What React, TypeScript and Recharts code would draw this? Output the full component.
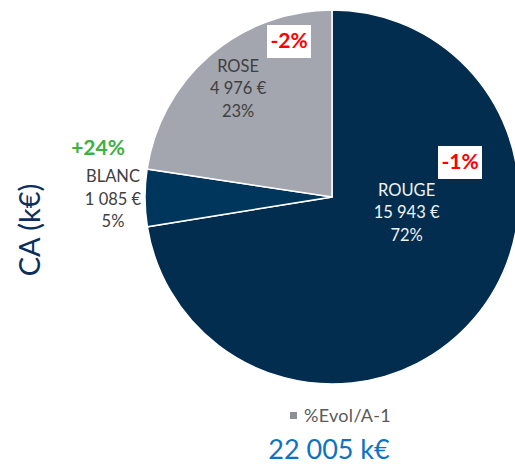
import { PieChart, Pie, Cell, Legend } from 'recharts'

// Chiffre d'affaires par couleur de vin (k€)
const categories = ['ROUGE', 'BLANC', 'ROSE']
const values = [15943, 1085, 4976]
const evolutions = ['-1%', '+24%', '-2%']
const totalLabel = '22 005 k€'
const legendLabel = '%Evol/A-1'
const axisTitle = 'CA (k€)'

const colors = ['#022d4f', '#00365b', '#a3a6ae']
const labelColors = ['#f2f2f2', '#404040', '#404040']
const evolColors = ['#ff0000', '#3cb043', '#ff0000']

const data = categories.map((name, i) => ({ name, value: values[i] }))

// placement des étiquettes (rayon, angle éventuellement forcé) et des badges d'évolution
const labelPlacement: Record<string, { r: number; angle?: number }> = {
  ROUGE: { r: 76, angle: -11 },
  BLANC: { r: 219 },
  ROSE: { r: 144 },
}
const evolOffset: Record<string, { dx: number; dy: number; box: boolean }> = {
  ROUGE: { dx: 128, dy: -35, box: true },
  BLANC: { dx: -234, dy: -49, box: false },
  ROSE: { dx: -43, dy: -156, box: true },
}

const FONT = 'Lato, "Open Sans", sans-serif'
const RAD = Math.PI / 180

function fmt(n: number) {
  return String(n).replace(/\B(?=(\d{3})+(?!\d))/g, ' ') + ' €'
}

function renderLabel(props: any) {
  const { cx, cy, midAngle, percent, index, name, value } = props
  const place = labelPlacement[name]
  const ang = place.angle ?? midAngle
  const x = cx + place.r * Math.cos(-ang * RAD)
  const y = cy + place.r * Math.sin(-ang * RAD)
  const ev = evolOffset[name]
  const ex = cx + ev.dx
  const ey = cy + ev.dy
  return (
    <g key={name} style={{ fontFamily: FONT }}>
      <text x={x} y={y} textAnchor="middle" fill={labelColors[index]} fontSize={16.5}>
        <tspan x={x} dy={-22 + 6}>{name}</tspan>
        <tspan x={x} dy={22.5}>{fmt(value)}</tspan>
        <tspan x={x} dy={22.5}>{Math.round(percent * 100)}%</tspan>
      </text>
      {ev.box && <rect x={ex - 22} y={ey - 16} width={44} height={33} fill="#ffffff" />}
      <text x={ex} y={ey + 7} textAnchor="middle" fill={evolColors[index]} fontSize={21} fontWeight={700}>
        {evolutions[index]}
      </text>
    </g>
  )
}

function LegendContent() {
  return (
    <div style={{ display: 'flex', alignItems: 'center', fontFamily: FONT, fontSize: 18, color: '#595959', letterSpacing: 0.3 }}>
      <span style={{ width: 7, height: 7, background: '#8c8f96', display: 'inline-block', marginRight: 7 }} />
      {legendLabel}
    </div>
  )
}

export default function App() {
  return (
    <div style={{ position: 'absolute', left: 0, top: 0, width: 515, height: 466, background: '#fff', overflow: 'hidden' }}>
      <PieChart width={515} height={466} margin={{ top: 0, right: 0, bottom: 0, left: 0 }}>
        <Pie
          data={data}
          dataKey="value"
          nameKey="name"
          cx={332}
          cy={197}
          outerRadius={187}
          startAngle={90}
          endAngle={-270}
          stroke="#ffffff"
          strokeWidth={1.5}
          label={renderLabel}
          labelLine={false}
          isAnimationActive={false}
        >
          {data.map((d, i) => (
            <Cell key={d.name} fill={colors[i]} />
          ))}
        </Pie>
        <Legend
          content={<LegendContent />}
          wrapperStyle={{ position: 'absolute', left: 290, top: 404, width: 130 }}
        />
      </PieChart>
      <div
        style={{
          position: 'absolute', left: 28, top: 230, transform: 'translate(-50%, -50%) rotate(-90deg)',
          whiteSpace: 'nowrap', fontFamily: FONT, fontSize: 29, color: '#0b2e5c',
        }}
      >
        {axisTitle}
      </div>
      <div
        style={{
          position: 'absolute', left: 329, top: 435, transform: 'translateX(-50%)',
          whiteSpace: 'nowrap', fontFamily: FONT, fontSize: 27, color: '#0f72c0', lineHeight: '27px',
        }}
      >
        {totalLabel}
      </div>
    </div>
  )
}
